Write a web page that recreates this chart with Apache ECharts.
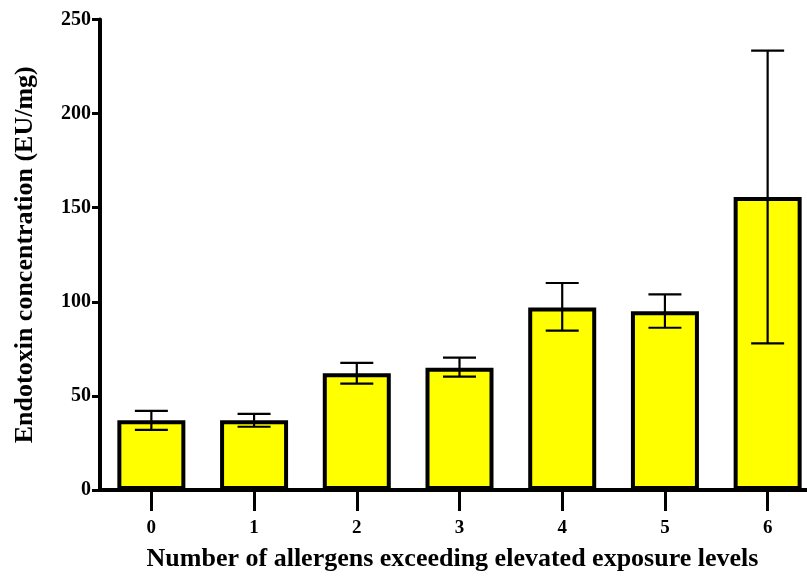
<!DOCTYPE html>
<html>
<head>
<meta charset="utf-8">
<script src="https://cdn.jsdelivr.net/npm/echarts@6/dist/echarts.min.js"></script>
<style>html,body{margin:0;padding:0;background:#fff;}#c{width:807px;height:576px;}</style>
</head>
<body>
<div id="c"></div>
<script>
var categories = ['0', '1', '2', '3', '4', '5', '6'];
var means = [37, 37, 62, 65, 97, 95, 155.7];
var errLow = [32, 33.6, 56.5, 60.2, 84.7, 86.2, 77.9];
var errHigh = [42, 40.4, 67.6, 70.3, 110, 103.9, 233.5];
var yTicks = [0, 50, 100, 150, 200, 250];

var font = '"Liberation Serif", "Times New Roman", serif';
var chart = echarts.init(document.getElementById('c'), null, {renderer: 'canvas'});
var errData = categories.map(function (c, i) { return [i, errLow[i], errHigh[i]]; });

chart.setOption({
  animation: false,
  backgroundColor: '#fff',
  grid: {left: 100, top: 19.5, bottom: 86, width: 719, containLabel: false, outerBoundsMode: 'none'},
  xAxis: {
    type: 'category',
    data: categories,
    name: 'Number of allergens exceeding elevated exposure levels',
    nameLocation: 'middle',
    nameGap: 56,
    nameTextStyle: {fontFamily: font, fontWeight: 'bold', fontSize: 26, color: '#000', padding: [0, 14, 0, 0]},
    axisLine: {lineStyle: {color: '#000', width: 4}},
    axisTick: {show: true, alignWithLabel: true, length: 21, lineStyle: {color: '#000', width: 3}},
    axisLabel: {fontFamily: font, fontWeight: 'bold', fontSize: 19, color: '#000', margin: 29}
  },
  yAxis: {
    type: 'value',
    min: 0, max: 250, interval: 50,
    name: 'Endotoxin concentration (EU/mg)',
    nameLocation: 'middle',
    nameGap: 62,
    nameTextStyle: {fontFamily: font, fontWeight: 'bold', fontSize: 26, color: '#000'},
    axisLine: {show: true, lineStyle: {color: '#000', width: 4}},
    axisTick: {show: true, length: 8, lineStyle: {color: '#000', width: 3}},
    axisLabel: {fontFamily: font, fontWeight: 'bold', fontSize: 20, color: '#000', margin: 9,
      formatter: function (v) { return yTicks.indexOf(v) >= 0 ? String(v) : ''; }},
    splitLine: {show: false}
  },
  series: [
    {
      type: 'bar',
      data: means,
      barWidth: 68,
      itemStyle: {color: '#ffff00', borderColor: '#000', borderWidth: 4}
    },
    {
      type: 'custom',
      data: errData,
      z: 10,
      renderItem: function (params, api) {
        var x = api.value(0);
        var lo = api.coord([x, api.value(1)]);
        var hi = api.coord([x, api.value(2)]);
        var hw = 16.5;
        var st = {stroke: '#000', lineWidth: 2.2};
        return {
          type: 'group',
          children: [
            {type: 'line', shape: {x1: hi[0], y1: hi[1], x2: lo[0], y2: lo[1]}, style: st},
            {type: 'line', shape: {x1: hi[0] - hw, y1: hi[1], x2: hi[0] + hw, y2: hi[1]}, style: st},
            {type: 'line', shape: {x1: lo[0] - hw, y1: lo[1], x2: lo[0] + hw, y2: lo[1]}, style: st}
          ]
        };
      }
    }
  ]
});
</script>
</body>
</html>
